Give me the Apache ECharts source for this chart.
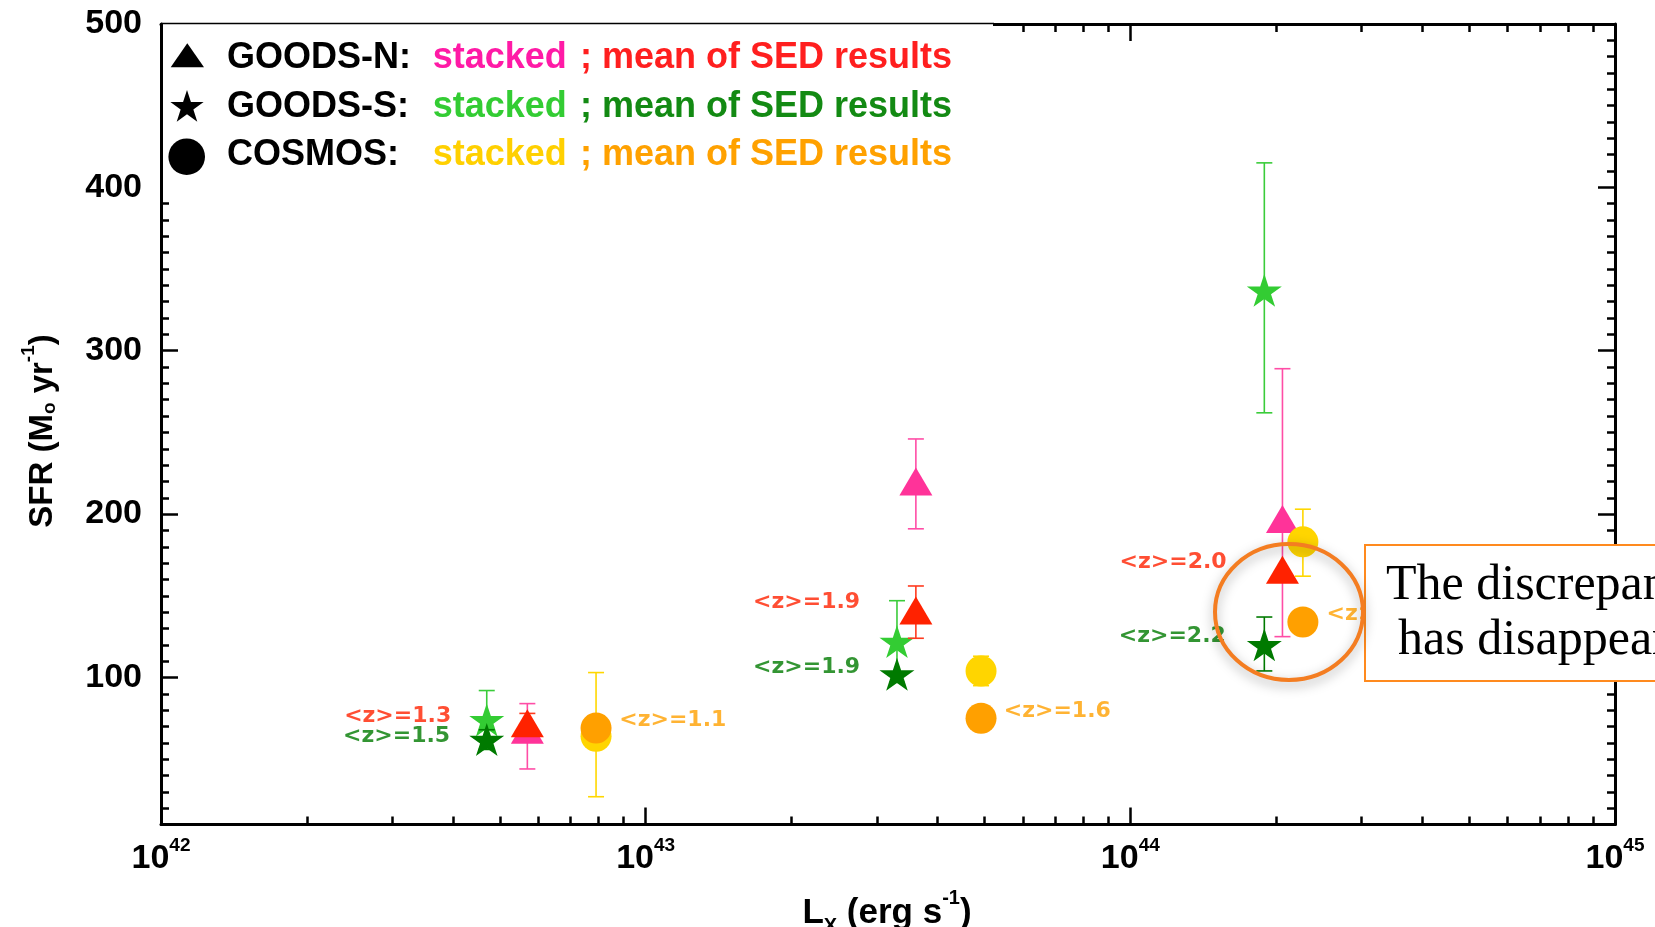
<!DOCTYPE html>
<html><head><meta charset="utf-8">
<script src="https://cdn.jsdelivr.net/npm/echarts@6/dist/echarts.min.js"></script>
<style>html,body{margin:0;padding:0;background:#fff}#c{width:1655px;height:927px}</style>
</head><body><div id="c"></div>
<script>
// ---------------- DATA ----------------
// GOODS-N (triangles)
const goodsN_x          = [5.7e42, 3.61e43, 2.06e44];
const goodsN_stacked    = [68, 220, 197];
const goodsN_stacked_lo = [44, 191, 125];
const goodsN_stacked_hi = [84, 246, 289];
const goodsN_sed        = [72, 141, 166];
const goodsN_sed_lo     = [66, 124, null];
const goodsN_sed_hi     = [78, 156, null];
// GOODS-S (stars)
const goodsS_x          = [4.7e42, 3.3e43, 1.89e44];
const goodsS_stacked    = [74, 122, 337];
const goodsS_stacked_lo = [56, 97, 262];
const goodsS_stacked_hi = [92, 147, 415];
const goodsS_sed        = [62, 102, 120];
const goodsS_sed_lo     = [56, null, 104];
const goodsS_sed_hi     = [68, null, 137];
// COSMOS (circles)
const cosmos_x          = [7.9e42, 4.92e43, 2.27e44];
const cosmos_stacked    = [64, 104, 183];
const cosmos_stacked_lo = [27, 95, 162];
const cosmos_stacked_hi = [103, 113, 203];
const cosmos_sed        = [69, 75, 134];
// redshift annotations
const zText  = ['<z>=1.3','<z>=1.5','<z>=1.1','<z>=1.9','<z>=1.9','<z>=1.6','<z>=2.0','<z>=2.2','<z>=2.1'];
const zX     = [3.97e42, 3.95e42, 8.82e42, 2.77e43, 2.77e43, 5.48e43, 1.58e44, 1.574e44, 2.54e44];
const zY     = [76, 64, 73.5, 146, 106, 79, 170.4, 125.5, 138.8];
const zField = ['N','S','C','N','S','C','N','S','C'];
// axes
const xMin = 1e42, xMax = 1e45;
const xMajorTicks = [1e42, 1e43, 1e44, 0.99999e45];
const xMinorMult = [2,3,4,5,6,7,8,9];
const yMin = 10, yMax = 500;
const yMajorTicks = [100, 200, 300, 400, 500];
const yMinorStep = 10;
const legendRows = [
  {field:'GOODS-N:', stacked:'stacked', sed:'; mean of SED results'},
  {field:'GOODS-S:', stacked:'stacked', sed:'; mean of SED results'},
  {field:'COSMOS:',  stacked:'stacked', sed:'; mean of SED results'}
];
const noteLines = ['The discrepancy', 'has disappeared'];

// ---------------- STYLE ----------------
const C = {
  pinkM:'#FF3399', redM:'#FF2200', lgreenM:'#33CC33', dgreenM:'#007A00', yellowM:'#FFD500', orangeM:'#FFA000',
  pinkE:'#FF4DA6', redE:'#FF3A1F', lgreenE:'#3ACC3A', dgreenE:'#007A00', yellowE:'#FFD700',
  legPink:'#FF1AA6', legRed:'#FF1F1F', legLG:'#33CC33', legDG:'#138A13', legY:'#FFD000', legO:'#FFA100'
};
const zColor = {N:'#FF2200', S:'#007A00', C:'#FFA000'};
const zSide  = {N:'left', S:'left', C:'right'};
const STAR = 'path://M0,-1L0.2245,-0.309L0.9511,-0.309L0.3633,0.118L0.5878,0.809L0,0.382L-0.5878,0.809L-0.3633,0.118L-0.9511,-0.309L-0.2245,-0.309Z';
const starUnit = [[0,-1],[0.2245,-0.309],[0.9511,-0.309],[0.3633,0.118],[0.5878,0.809],[0,0.382],[-0.5878,0.809],[-0.3633,0.118],[-0.9511,-0.309],[-0.2245,-0.309]];
const SANS = '"Liberation Sans", Arial, Helvetica, sans-serif';

const xMinorTicks = [];
for (let e = 42; e < 45; e++) xMinorMult.forEach(m => xMinorTicks.push(m * Math.pow(10, e)));
const yMinorTicks = [];
for (let v = yMin + yMinorStep; v < yMax; v += yMinorStep) if (v % 100 !== 0) yMinorTicks.push(v);

function xAxisDef(pos, ticks, len, showLine, showLabel) {
  return {
    type:'log', logBase:10, min:xMin, max:xMax, position:pos,
    axisLine:{show:showLine, onZero:false, lineStyle:{color:'#000', width:3}},
    axisTick:{show:true, inside:true, length:len, customValues:ticks, lineStyle:{color:'#000', width:2.5}},
    axisLabel:{show:showLabel, margin:12, customValues:xMajorTicks,
      formatter: v => '{b|10}{s|' + Math.round(Math.log10(v)) + '}',
      rich:{
        b:{fontSize:34, fontWeight:'bold', fontFamily:SANS, color:'#000', verticalAlign:'top', lineHeight:34, padding:[5,0,0,0]},
        s:{fontSize:19, fontWeight:'bold', fontFamily:SANS, color:'#000', verticalAlign:'top', lineHeight:19}
      }},
    splitLine:{show:false}, minorTick:{show:false}
  };
}
function yAxisDef(pos, ticks, len, showLine, showLabel) {
  return {
    type:'value', min:yMin, max:yMax, position:pos,
    axisLine:{show:showLine, onZero:false, lineStyle:{color:'#000', width:3}},
    axisTick:{show:true, inside:true, length:len, customValues:ticks, lineStyle:{color:'#000', width:2.5}},
    axisLabel:{show:showLabel, margin:19, customValues:yMajorTicks, color:'#000',
      fontSize:34, fontWeight:'bold', fontFamily:SANS},
    splitLine:{show:false}
  };
}

function errSeries(xs, lo, hi, color, z) {
  const data = [];
  xs.forEach((x, i) => { if (lo[i] != null) data.push([x, lo[i], hi[i]]); });
  return {
    type:'custom', xAxisIndex:0, yAxisIndex:0, z, silent:true, encode:{x:0, y:[1,2]}, data,
    renderItem(params, api) {
      const x = api.value(0);
      const top = api.coord([x, api.value(2)]);
      const bot = api.coord([x, api.value(1)]);
      const cw = 8;
      const st = {stroke:color, lineWidth:1.6, fill:null};
      return {type:'group', children:[
        {type:'line', shape:{x1:top[0], y1:top[1], x2:bot[0], y2:bot[1]}, style:st},
        {type:'line', shape:{x1:top[0]-cw, y1:top[1], x2:top[0]+cw, y2:top[1]}, style:st},
        {type:'line', shape:{x1:bot[0]-cw, y1:bot[1], x2:bot[0]+cw, y2:bot[1]}, style:st}
      ]};
    }
  };
}
function ptSeries(name, xs, ys, symbol, size, color, z) {
  return {type:'scatter', name, xAxisIndex:0, yAxisIndex:0, symbol, symbolSize:size, z, silent:true,
    itemStyle:{color, opacity:1}, data: xs.map((x, i) => [x, ys[i]])};
}

const zSeries = {
  type:'scatter', xAxisIndex:0, yAxisIndex:0, symbolSize:0, z:30, silent:true,
  data: zText.map((t, i) => ({
    name:t, value:[zX[i], zY[i]],
    label:{show:true, position:zSide[zField[i]], distance:0, color:zColor[zField[i]],
      fontFamily:'"DejaVu Sans", sans-serif', fontWeight:'bold', fontSize:22, formatter: p => p.name}
  }))
};

// ---------------- GRAPHIC (legend, axis titles, callout) ----------------
const rowY = [58.4, 107.2, 155.3];
const legendFont = 'bold 36px ' + SANS;
const legStack = [C.legPink, C.legLG, C.legY];
const legSed   = [C.legRed, C.legDG, C.legO];
const graphics = [];
graphics.push({type:'rect', z:100, shape:{x:163, y:20, width:830, height:178}, style:{fill:'#fff'}});
graphics.push({type:'line', z:101, shape:{x1:161, y1:23.5, x2:994, y2:23.5}, style:{stroke:'#000', lineWidth:1.5}});
graphics.push({type:'polygon', z:101, shape:{points:[[170.7,67.3],[204,67.3],[187.3,43.3]]}, style:{fill:'#000'}});
graphics.push({type:'polygon', z:101, shape:{points:starUnit.map(p => [187 + p[0]*17.5, 107.5 + p[1]*17.5])}, style:{fill:'#000'}});
graphics.push({type:'circle', z:101, shape:{cx:186.7, cy:156.7, r:18.3}, style:{fill:'#000'}});
legendRows.forEach((r, i) => {
  const base = {font:legendFont, verticalAlign:'middle', textVerticalAlign:'middle', align:'left', textAlign:'left', y:rowY[i]};
  graphics.push({type:'text', z:101, style:Object.assign({}, base, {x:227, text:r.field, fill:'#000'})});
  graphics.push({type:'text', z:101, style:Object.assign({}, base, {x:432.7, text:r.stacked, fill:legStack[i]})});
  graphics.push({type:'text', z:101, style:Object.assign({}, base, {x:580, text:r.sed, fill:legSed[i]})});
});
function titleRich(fs) {
  const sf = Math.round(fs * 0.57);
  return {
    b:{fontSize:fs, fontWeight:'bold', fontFamily:SANS, fill:'#000', color:'#000', verticalAlign:'top', lineHeight:fs, padding:[7,0,0,0]},
    o:{fontSize:sf, fontWeight:'bold', fontFamily:SANS, fill:'#000', color:'#000', verticalAlign:'top', lineHeight:sf, padding:[21,0,0,0]},
    x:{fontSize:sf, fontWeight:'bold', fontFamily:SANS, fill:'#000', color:'#000', verticalAlign:'top', lineHeight:sf, padding:[28,0,0,0]},
    p:{fontSize:sf, fontWeight:'bold', fontFamily:SANS, fill:'#000', color:'#000', verticalAlign:'top', lineHeight:sf}
  };
}
graphics.push({type:'text', z:101, x:36, y:431, rotation:Math.PI/2,
  style:{text:'{b|SFR (M}{o|o}{b| yr}{p|-1}{b|)}', rich:titleRich(33), align:'center', textAlign:'center', verticalAlign:'middle', textVerticalAlign:'middle'}});
graphics.push({type:'text', z:101, x:887, y:906,
  style:{text:'{b|L}{x|X}{b| (erg s}{p|-1}{b|)}', rich:titleRich(35), align:'center', textAlign:'center', verticalAlign:'middle', textVerticalAlign:'middle'}});
// callout
graphics.push({type:'rect', z:110, shape:{x:1365, y:545, width:330, height:136}, style:{fill:'#fff', stroke:'#FF8A1E', lineWidth:2}});
graphics.push({type:'ellipse', z:111, shape:{cx:1289, cy:612, rx:74, ry:68},
  style:{fill:null, stroke:'#F47D21', lineWidth:4, shadowBlur:12, shadowColor:'rgba(0,0,0,0.35)', shadowOffsetX:0, shadowOffsetY:4}});
const noteFont = '50px "Liberation Serif", "Times New Roman", serif';
graphics.push({type:'text', z:112, style:{x:1386, y:586, text:noteLines[0], font:noteFont, fill:'#000', verticalAlign:'middle', textVerticalAlign:'middle', align:'left', textAlign:'left'}});
graphics.push({type:'text', z:112, style:{x:1398, y:641, text:noteLines[1], font:noteFont, fill:'#000', verticalAlign:'middle', textVerticalAlign:'middle', align:'left', textAlign:'left'}});

// ---------------- CHART ----------------
const chart = echarts.init(document.getElementById('c'), null, {renderer:'canvas', width:1655, height:927});
chart.setOption({
  animation:false,
  backgroundColor:'#fff',
  grid:{left:161, right:40, top:24, bottom:102.5, containLabel:false, outerBoundsMode:'none'},
  xAxis:[
    xAxisDef('bottom', xMajorTicks, 17, true, true),
    xAxisDef('bottom', xMinorTicks, 8, false, false),
    xAxisDef('top', xMajorTicks, 17, true, false),
    xAxisDef('top', xMinorTicks, 8, false, false)
  ],
  yAxis:[
    yAxisDef('left', yMajorTicks, 17, true, true),
    yAxisDef('left', yMinorTicks, 8, false, false),
    yAxisDef('right', yMajorTicks, 17, true, false),
    yAxisDef('right', yMinorTicks, 8, false, false)
  ],
  series:[
    errSeries(goodsN_x, goodsN_stacked_lo, goodsN_stacked_hi, C.pinkE, 3),
    errSeries(goodsS_x, goodsS_stacked_lo, goodsS_stacked_hi, C.lgreenE, 3),
    errSeries(cosmos_x, cosmos_stacked_lo, cosmos_stacked_hi, C.yellowE, 3),
    ptSeries('GOODS-N stacked', goodsN_x, goodsN_stacked, 'triangle', [33,28], C.pinkM, 4),
    ptSeries('GOODS-S stacked', goodsS_x, goodsS_stacked, STAR, [35,33], C.lgreenM, 4),
    ptSeries('COSMOS stacked', cosmos_x, cosmos_stacked, 'circle', 31, C.yellowM, 4),
    errSeries(goodsN_x, goodsN_sed_lo, goodsN_sed_hi, C.redE, 5),
    errSeries(goodsS_x, goodsS_sed_lo, goodsS_sed_hi, C.dgreenE, 5),
    ptSeries('GOODS-N SED', goodsN_x, goodsN_sed, 'triangle', [33,28], C.redM, 6),
    ptSeries('GOODS-S SED', goodsS_x, goodsS_sed, STAR, [35,33], C.dgreenM, 6),
    ptSeries('COSMOS SED', cosmos_x, cosmos_sed, 'circle', 31, C.orangeM, 6),
    zSeries
  ],
  graphic:{elements:graphics}
});
</script></body></html>
